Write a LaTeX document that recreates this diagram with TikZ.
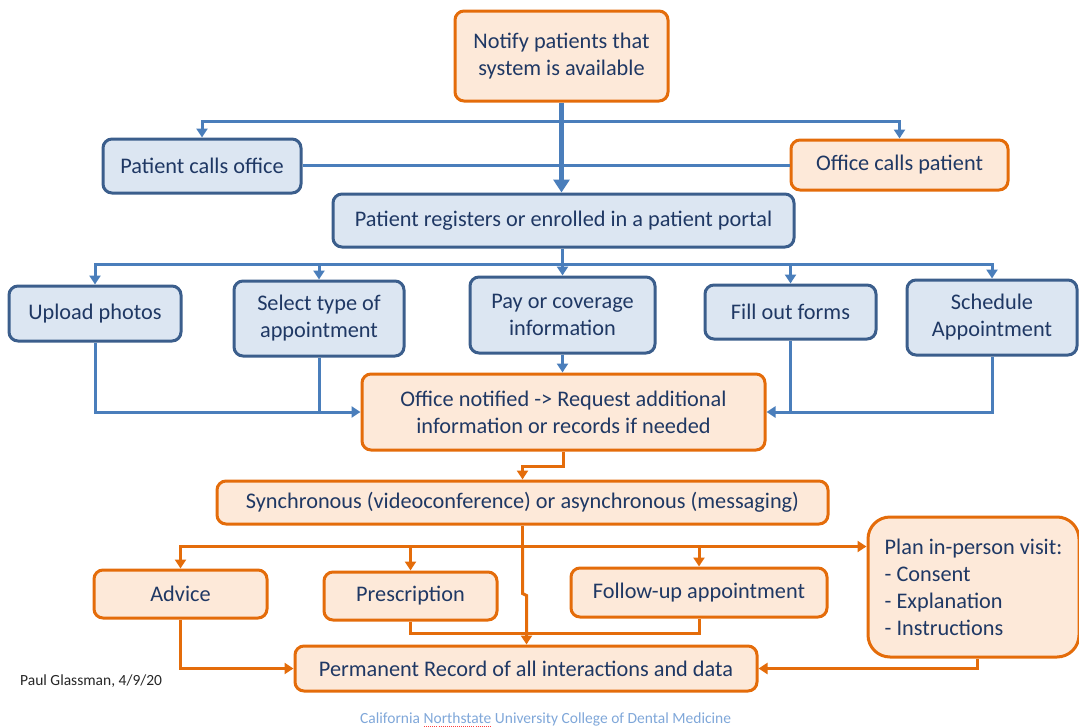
\documentclass[tikz,border=0pt]{standalone}
\usepackage{fontspec}
\setmainfont{Carlito}
\usetikzlibrary{arrows.meta,calc}
\definecolor{bfill}{HTML}{DCE6F2}
\definecolor{bdraw}{HTML}{3B5E8C}
\definecolor{bline}{HTML}{4A7EBB}
\definecolor{ofill}{HTML}{FDE9D9}
\definecolor{odraw}{HTML}{E46C0A}
\definecolor{txt}{HTML}{1F3864}
\definecolor{foot}{HTML}{7FA7D9}
\definecolor{authorc}{HTML}{262626}
\newcommand\spellul[1]{\setbox0\hbox{#1}\rlap{\color{red!75}\raisebox{-3.5pt}{\hbox to \wd0{\xleaders\hbox to 2pt{\hss\rule{1pt}{0.7pt}\hss}\hfill}}}\box0\relax}
\begin{document}
\begin{tikzpicture}[x=1pt,y=-1pt,
  box/.style={rounded corners=9pt, line width=3pt, inner sep=0pt, align=center,
    text=txt, font=\fontsize{22.3}{27}\selectfont},
  bluebox/.style={box, draw=bdraw, fill=bfill},
  orangebox/.style={box, draw=odraw, fill=ofill},
  bline/.style={draw=bline, line width=3pt},
  barrow/.style={bline, -{Triangle[length=9pt,width=11pt]}},
  trunk/.style={draw=bline, line width=5.5pt, -{Triangle[length=13pt,width=16pt]}},
  oline/.style={draw=odraw, line width=3pt},
  oarrow/.style={oline, -{Triangle[length=9pt,width=11pt]}},
]
\useasboundingbox (0,0) rectangle (1079,728);

% nodes
\node[orangebox, minimum width=213pt, minimum height=90pt] (notify) at (561.5,56) {Notify patients that\\system is available};
\node[bluebox, minimum width=198pt, minimum height=54pt] (pco) at (202,166) {Patient calls office};
\node[orangebox, minimum width=217pt, minimum height=50pt] (ocp) at (899.5,165) {Office calls patient};
\node[bluebox, minimum width=461pt, minimum height=53pt] (reg) at (563.5,220.5) {Patient registers or enrolled in a patient portal};
\node[bluebox, minimum width=172pt, minimum height=55pt] (upload) at (95,313.5) {Upload photos};
\node[bluebox, minimum width=170pt, minimum height=75pt] (select) at (319,318.5) {Select type of\\appointment};
\node[bluebox, minimum width=185pt, minimum height=76pt] (pay) at (562.5,315) {Pay or coverage\\information};
\node[bluebox, minimum width=171pt, minimum height=54pt] (fill) at (790.5,312) {Fill out forms};
\node[bluebox, minimum width=170pt, minimum height=75pt] (sched) at (992,317.5) {Schedule\\Appointment};
\node[orangebox, minimum width=403pt, minimum height=76pt] (notified) at (563.5,412) {Office notified -> Request additional\\information or records if needed};
\node[orangebox, minimum width=611pt, minimum height=43pt] (sync) at (522.5,502.5) {Synchronous (videoconference) or asynchronous (messaging)};
\node[orangebox, minimum width=173pt, minimum height=48pt] (advice) at (180.5,594) {Advice};
\node[orangebox, minimum width=173pt, minimum height=48pt] (presc) at (410.5,596) {Prescription};
\node[orangebox, minimum width=256pt, minimum height=49pt] (follow) at (699,592.5) {Follow-up appointment};
\node[orangebox, rounded corners=22pt, align=left, minimum width=211pt, minimum height=140pt] (plan) at (973.5,587) {Plan in-person visit:\\- Consent\\- Explanation\\- Instructions};
\node[orangebox, minimum width=462pt, minimum height=45pt] (perm) at (526,668.5) {Permanent Record of all interactions and data};

\node[anchor=base west, inner sep=0pt, text=authorc, font=\fontsize{15.5}{18}\selectfont] (author) at (20,685) {Paul Glassman, 4/9/20};
\node[anchor=base west, inner sep=0pt, text=foot, font=\fontsize{15.5}{18}\selectfont] (college) at (360,723) {California \spellul{Northstate} University College of Dental Medicine};

% blue connectors
\coordinate (b1) at (561.5,121);
\draw[barrow] (b1) -| (pco.north);
\draw[barrow] (b1) -| (ocp.north);
\draw[bline] (pco.east |- ocp.west) -- (ocp.west);
\draw[trunk] (notify.south) -- (notify.south |- reg.north);

\path (pay.north) ++(0,-11) coordinate (b2);
\draw[barrow] (reg.south -| pay.north) -- (pay.north);
\draw[barrow] (b2) -| (upload.north);
\draw[barrow] (b2) -| (select.north);
\draw[barrow] (b2) -| (fill.north);
\draw[barrow] (b2) -| (sched.north);
\draw[barrow] (pay.south) -- (notified.north -| pay.south);
\draw[barrow] (upload.south) |- (notified.west);
\draw[bline] (select.south) -- (select.south |- notified.west);
\draw[barrow] (fill.south) |- (notified.east);
\draw[bline] (sched.south) |- (fill.south |- notified.east);

% orange connectors
\draw[oarrow] (notified.south) -- ++(0,15) -| (sync.north);
\path (sync.south) ++(0,21) coordinate (b3);
\draw[oline] (sync.south) -- (b3);
\draw[oarrow] (b3) -| (advice.north);
\draw[oarrow] (b3) -| (presc.north);
\draw[oarrow] (b3) -| (follow.north);
\draw[oarrow] (b3) -- (b3 -| plan.west);
\draw[oarrow] (b3) -- ++(0,47) -- ++(4,2) coordinate (j) -- (j |- perm.north);
\path (presc.south) ++(0,12) coordinate (pj);
\draw[oline] (presc.south) |- (follow.south |- pj) -- (follow.south);
\draw[oarrow] (advice.south) |- (perm.west);
\draw[oarrow] ([xshift=4pt]plan.south) |- (perm.east);
\end{tikzpicture}
\end{document}
